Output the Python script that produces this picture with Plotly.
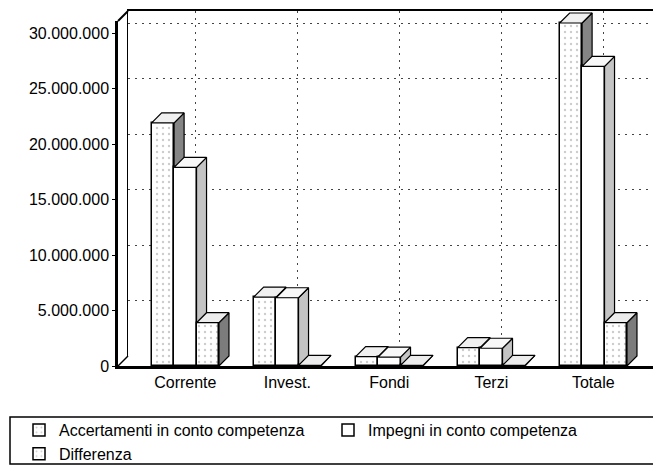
import plotly.graph_objects as go

categories = ["Corrente", "Invest.", "Fondi", "Terzi", "Totale"]
accertamenti = [21_900_000, 6_200_000, 850_000, 1_650_000, 30_900_000]
impegni = [17_900_000, 6_150_000, 800_000, 1_600_000, 27_000_000]
differenza = [3_900_000, 50_000, 50_000, 50_000, 3_900_000]
series_names = ["Accertamenti in conto competenza", "Impegni in conto competenza", "Differenza"]
y_ticks = [0, 5_000_000, 10_000_000, 15_000_000, 20_000_000, 25_000_000, 30_000_000]

# the page body has an 8px margin, so the figure is shrunk by that much
BODY = 8
W, H = 661 - BODY, 466 - BODY
PLOT_L, PLOT_T, PLOT_B = 118, 11, 366     # target page pixels
ML, MT, MR = PLOT_L - BODY, PLOT_T - BODY, 0
MB = 466 - PLOT_B
PW, PH = W - ML - MR, H - MT - MB
DEPTH = 10          # px of 3D depth
PX_X = 102          # px per category
PX_Y = 11.1 / 1e6   # px per unit value
BAR_W = 0.22


def px(x):
    return (x - PLOT_L) / PW


def py(y):
    return (PLOT_B - y) / PH


front_xrange = [-0.66, -0.66 + PW / PX_X]
back_xrange = [-0.66, -0.66 + (PW - DEPTH) / PX_X]
y_max = (PH - DEPTH) / PX_Y
full_yrange = [0, PH / PX_Y]
dx = DEPTH / PX_X
dy = DEPTH / PX_Y

front_fill = ["white", "white", "white"]
side_fill = ["#858585", "#c4c4c4", "#7c7c7c"]
top_fill = ["#f0f0f0", "#f8f8f8", "#ececec"]
patterns = [".", "", "."]

fig = go.Figure()

# placeholders so the back wall and front axes subplots are drawn
fig.add_trace(go.Scatter(x=[None], y=[None], xaxis="x", yaxis="y", showlegend=False, hoverinfo="skip"))
fig.add_trace(go.Scatter(x=[None], y=[None], xaxis="x2", yaxis="y2", showlegend=False, hoverinfo="skip"))

subplots = [("x3", "y3"), ("x4", "y4"), ("x5", "y5")]
for k, vals in enumerate([accertamenti, impegni, differenza]):
    xa, ya = subplots[k]
    offset = -0.33 + k * BAR_W
    fig.add_trace(go.Bar(
        x=list(range(len(categories))), y=vals, name=series_names[k],
        width=BAR_W, offset=offset, xaxis=xa, yaxis=ya,
        marker=dict(color=front_fill[k], line=dict(color="black", width=1.5),
                    pattern=dict(shape=patterns[k], fgcolor="#9a9a9a", size=6, solidity=0.12)),
        hoverinfo="skip",
    ))
    sx, sy, tx, ty = [], [], [], []
    for i, v in enumerate(vals):
        l = i + offset
        r = l + BAR_W
        sx += [r, r + dx, r + dx, r, r, None]
        sy += [0, dy, v + dy, v, 0, None]
        tx += [l, r, r + dx, l + dx, l, None]
        ty += [v, v, v + dy, v + dy, v, None]
    fig.add_trace(go.Scatter(x=sx, y=sy, mode="lines", fill="toself", fillcolor=side_fill[k],
                             line=dict(color="black", width=1.2), xaxis=xa, yaxis=ya,
                             showlegend=False, hoverinfo="skip"))
    fig.add_trace(go.Scatter(x=tx, y=ty, mode="lines", fill="toself", fillcolor=top_fill[k],
                             line=dict(color="black", width=1.2), xaxis=xa, yaxis=ya,
                             showlegend=False, hoverinfo="skip"))

front_ydom = [0, (PH - DEPTH) / PH]
grid = dict(showgrid=True, gridcolor="#444", griddash="2px,5px", gridwidth=1)

layout_axes = dict(
    # back wall
    xaxis=dict(domain=[DEPTH / PW, 1], range=back_xrange, tickvals=list(range(len(categories))),
               showticklabels=False, ticks="", zeroline=False, showline=True, side="top",
               linecolor="black", linewidth=2, anchor="y", **grid),
    yaxis=dict(domain=[DEPTH / PH, 1], range=[0, y_max], tickvals=y_ticks, showticklabels=False,
               ticks="", zeroline=False, showline=True, linecolor="black", linewidth=1,
               anchor="x", **grid),
    # front plane
    xaxis2=dict(domain=[0, 1], range=front_xrange, anchor="y2", tickvals=list(range(len(categories))),
                ticktext=categories, ticks="", showgrid=False, zeroline=False,
                showline=True, linecolor="black", linewidth=2.5),
    yaxis2=dict(domain=front_ydom, range=[0, y_max], anchor="x2", tickvals=y_ticks, tickformat=",d",
                ticks="outside", ticklen=3, tickcolor="black", showgrid=False, zeroline=False,
                showline=True, linecolor="black", linewidth=2.5),
)
for n in (3, 4, 5):
    layout_axes[f"xaxis{n}"] = dict(domain=[0, 1], range=front_xrange, visible=False, anchor=f"y{n}")
    layout_axes[f"yaxis{n}"] = dict(domain=[0, 1], range=full_yrange, visible=False, anchor=f"x{n}")

fig.update_layout(**layout_axes)

# corner edges of the 3D box and the legend frame
shapes = [
    dict(type="line", xref="paper", yref="paper", x0=0, y0=front_ydom[1], x1=DEPTH / PW, y1=1,
         line=dict(color="black", width=2)),
    dict(type="line", xref="paper", yref="paper", x0=0, y0=0, x1=DEPTH / PW, y1=DEPTH / PH,
         line=dict(color="black", width=1.5)),
    dict(type="rect", xref="paper", yref="paper", x0=px(10), x1=px(670),
         y0=py(464), y1=py(417), line=dict(color="black", width=1.5), layer="above"),
]

fig.update_layout(
    width=W, height=H,
    margin=dict(l=ML, r=MR, t=MT, b=MB, autoexpand=False),
    paper_bgcolor="white", plot_bgcolor="rgba(0,0,0,0)",
    separators=",.",
    font=dict(family="Liberation Sans, Arial, sans-serif", size=16, color="black"),
    showlegend=True,
    legend=dict(orientation="h", x=px(19), xanchor="left", y=py(413),
                yanchor="top", bgcolor="rgba(0,0,0,0)", borderwidth=0,
                font=dict(size=16), traceorder="normal", itemwidth=30,
                entrywidth=264, entrywidthmode="pixels", tracegroupgap=0),
    shapes=shapes,
    bargap=0,
)

fig.write_html("out.html")
